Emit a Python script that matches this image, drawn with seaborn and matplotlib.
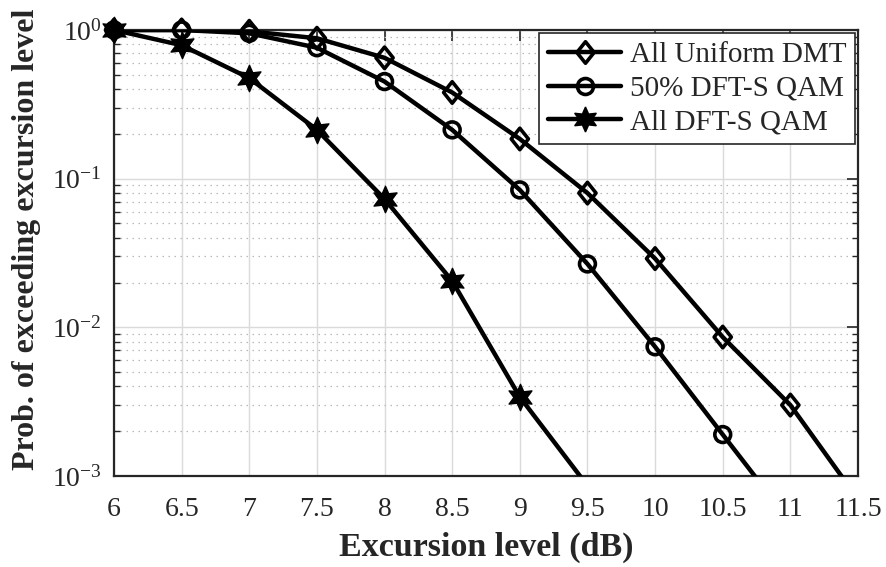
import numpy as np
import pandas as pd
import seaborn as sns
import matplotlib
matplotlib.use("Agg")
import matplotlib.pyplot as plt
from matplotlib.lines import Line2D
from matplotlib.path import Path
from matplotlib.ticker import LogLocator, LogFormatterMathtext, NullFormatter, FixedLocator

sns.set_theme(style="white")
plt.rcParams['font.family'] = ['Liberation Serif', 'DejaVu Serif']
plt.rcParams['mathtext.fontset'] = 'custom'
plt.rcParams['mathtext.rm'] = 'Liberation Serif'
plt.rcParams['mathtext.it'] = 'Liberation Serif:italic'
plt.rcParams['mathtext.bf'] = 'Liberation Serif:bold'

series_names = ["All Uniform DMT", "50% DFT-S QAM", "All DFT-S QAM"]
x_dmt = [6, 6.5, 7, 7.5, 8, 8.5, 9, 9.5, 10, 10.5, 11, 11.5]
y_dmt = [1.0, 1.0, 0.98, 0.88, 0.65, 0.38, 0.185, 0.080, 0.029, 0.0086, 0.0030, 0.0007]
x_half = [6, 6.5, 7, 7.5, 8, 8.5, 9, 9.5, 10, 10.5, 11]
y_half = [1.0, 1.0, 0.95, 0.76, 0.45, 0.213, 0.084, 0.0267, 0.0074, 0.0019, 0.00049]
x_all = [6, 6.5, 7, 7.5, 8, 8.5, 9, 9.5]
y_all = [1.0, 0.79, 0.475, 0.213, 0.073, 0.0205, 0.0034, 0.00086]
x_ticks = [6, 6.5, 7, 7.5, 8, 8.5, 9, 9.5, 10, 10.5, 11, 11.5]
x_tick_labels = ["6", "6.5", "7", "7.5", "8", "8.5", "9", "9.5", "10", "10.5", "11", "11.5"]

fig = plt.figure(figsize=(8.86, 5.67), dpi=100)
ax = fig.add_axes([114/886, 91/567, 744/886, 446/567])

diamond = Path([(0, 1), (0.8, 0), (0, -1), (-0.8, 0), (0, 1)],
               [Path.MOVETO, Path.LINETO, Path.LINETO, Path.LINETO, Path.CLOSEPOLY])
star = (6, 1, 0)
LW = 3.2
styles = [
    dict(marker=diamond, s=240, facecolor="none", lw=2.6, ms=15.5),
    dict(marker="o", s=130, facecolor="none", lw=2.6, ms=11.5),
    dict(marker=star, s=360, facecolor="black", lw=1.0, ms=18),
]
data_sets = [(x_dmt, y_dmt), (x_half, y_half), (x_all, y_all)]
handles = []
for name, (xs, ys), st in zip(series_names, data_sets, styles):
    df = pd.DataFrame({"x": xs, "y": ys})
    sns.lineplot(data=df, x="x", y="y", ax=ax, color="black", linewidth=LW,
                 legend=False, zorder=3)
    inr = df[df["y"] >= 1e-3]
    sns.scatterplot(data=inr, x="x", y="y", ax=ax, marker=st["marker"], s=st["s"],
                    facecolor=st["facecolor"], edgecolor="black",
                    linewidth=st["lw"], legend=False, zorder=4)
    handles.append(Line2D([0], [0], color="black", linewidth=LW, marker=st["marker"],
                          markersize=st["ms"], markerfacecolor=st["facecolor"],
                          markeredgecolor="black", markeredgewidth=st["lw"],
                          label=name))
for c in ax.collections:
    c.set_clip_on(False)

ax.set_yscale("log")
ax.set_ylim(1e-3, 1)
ax.set_xlim(6, 11.5)
ax.xaxis.set_major_locator(FixedLocator(x_ticks))
ax.set_xticklabels(x_tick_labels)
ax.yaxis.set_major_locator(LogLocator(base=10, numticks=10))
ax.yaxis.set_major_formatter(LogFormatterMathtext())
ax.yaxis.set_minor_locator(LogLocator(base=10, subs=np.arange(2, 10), numticks=20))
ax.yaxis.set_minor_formatter(NullFormatter())

ax.grid(True, which="major", color="#dadada", linewidth=1.0, linestyle="-")
ax.grid(True, which="minor", axis="y", color="#b8b8b8", linewidth=0.9, linestyle=(0, (1.2, 3.6)))
ax.set_axisbelow(True)

ax.tick_params(axis="both", which="major", direction="in", length=8, width=1.2,
               top=True, right=True, labelsize=20, colors="#262626", pad=9)
ax.tick_params(axis="x", which="major", pad=15)
ax.tick_params(axis="y", which="minor", direction="in", length=4, width=1.0,
               left=True, right=True, colors="#262626")
for sp in ax.spines.values():
    sp.set_color("#262626")
    sp.set_linewidth(1.6)

ax.set_xlabel("Excursion level (dB)", fontsize=24.5, fontweight="bold", labelpad=7,
              color="#262626")
ax.set_ylabel("Prob. of exceeding excursion level", fontsize=23, fontweight="bold",
              color="#262626")
ax.yaxis.set_label_coords(-0.098, 0.531)

leg = ax.legend(handles=handles, loc="upper right", fontsize=21, frameon=True,
                fancybox=False, edgecolor="#262626", framealpha=1, borderaxespad=0.1,
                handlelength=2.5, handletextpad=0.3, labelspacing=0.25, borderpad=0.3)
leg.get_frame().set_linewidth(1.2)

fig.savefig("out.png", dpi=100)
